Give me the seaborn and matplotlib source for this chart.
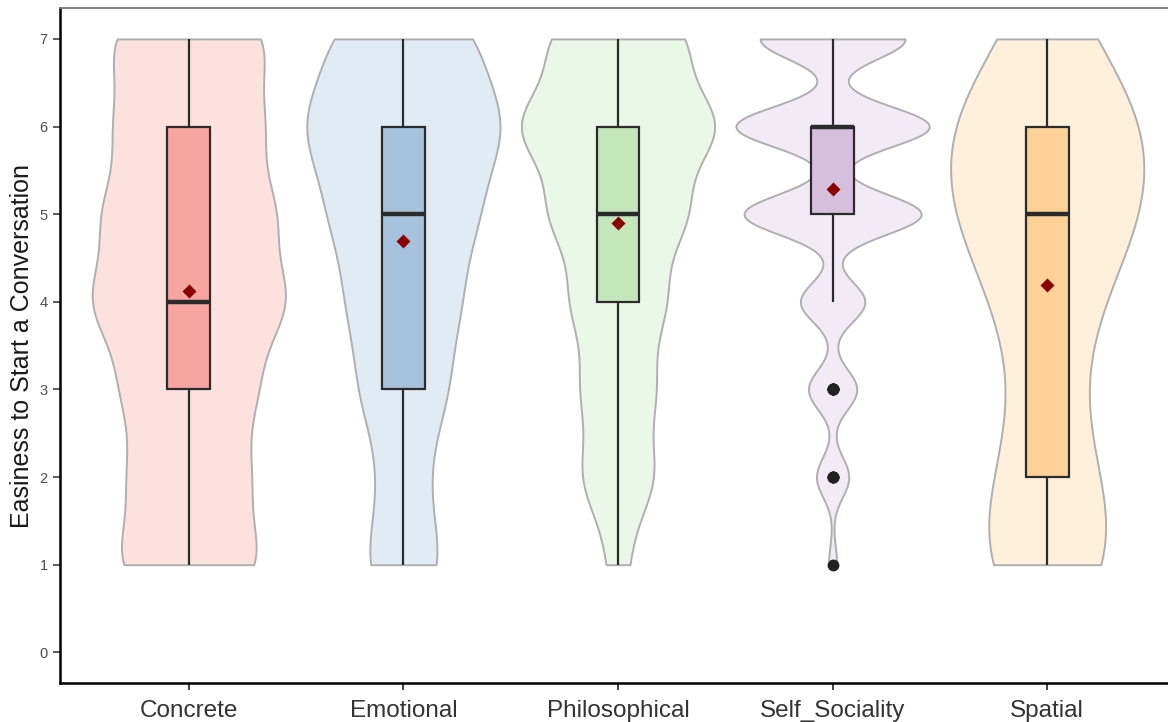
import numpy as np
import pandas as pd
import matplotlib.pyplot as plt
import seaborn as sns

# categories and answers per score (1..7), estimated from the violins / boxes
categories = ['Concrete', 'Emotional', 'Philosophical', 'Self_Sociality', 'Spatial']
scores = [1, 2, 3, 4, 5, 6, 7]

concrete_counts = [11, 9, 10, 15, 13, 11, 12]
emotional_counts = [7, 4, 8, 10, 13, 18, 13]
philosophical_counts = [2, 7, 7, 9, 13, 19, 13]
self_sociality_counts = [1, 4, 6, 8, 22, 24, 18]
spatial_counts = [13, 9, 5, 9, 17, 18, 8]

# kde bandwidth (in score units) per violin, as it looks in the original
bandwidths = [0.5, 0.55, 0.46, 0.23, 0.75]

violin_colors = ['#FDE1DF', '#E1EBF4', '#EBF7E8', '#F2EAF4', '#FFF0DB']
box_colors = ['#F6A5A0', '#A7C2DD', '#C3E7BB', '#D6BEDD', '#FDD197']

all_counts = [concrete_counts, emotional_counts, philosophical_counts,
              self_sociality_counts, spatial_counts]

rows = []
for cat, counts in zip(categories, all_counts):
    for s, c in zip(scores, counts):
        rows += [(cat, s)] * c
df = pd.DataFrame(rows, columns=['type', 'score'])

sns.set_style('ticks')
plt.rcParams['font.family'] = ['Liberation Sans', 'DejaVu Sans']

fig = plt.figure(figsize=(11.68, 7.22), dpi=100)
ax = fig.add_axes([0.0514, 0.054, 0.9554, 0.9346])

# violins, one call per type so each gets its own bandwidth
for cat, col, bw in zip(categories, violin_colors, bandwidths):
    sub = df[df['type'] == cat]
    sd = sub['score'].std()
    sns.violinplot(data=sub, x='type', y='score', order=categories, color=col,
                   saturation=1, bw_method=bw / sd, cut=0, inner=None,
                   density_norm='width', width=0.9, gridsize=400,
                   linecolor='#AFAFAF', linewidth=1.4, ax=ax)

sns.boxplot(data=df, x='type', y='score', order=categories, hue='type',
            hue_order=categories, palette=box_colors, saturation=1, width=0.2,
            linecolor='#2B2B2B', linewidth=1.6, showcaps=False, fliersize=7.5,
            flierprops=dict(marker='o', markerfacecolor='#222222',
                            markeredgecolor='#222222'),
            medianprops=dict(linewidth=3.2), legend=False, ax=ax)

# mean markers
sns.pointplot(data=df, x='type', y='score', order=categories, estimator='mean',
              errorbar=None, linestyle='none', marker='D', color='#8B0000',
              markersize=5, zorder=10, ax=ax)

ax.set_xlim(-0.6, 4.6)
ax.set_ylim(-0.35, 7.35)
ax.set_yticks(range(0, 8))
ax.set_xlabel('')
ax.set_ylabel('Easiness to Start a Conversation', fontsize=18, color='#1a1a1a')
ax.tick_params(axis='x', labelsize=17.5, colors='#333333', length=5, width=1.3, pad=7)
ax.tick_params(axis='y', labelsize=10.5, colors='#4D4D4D', length=5, width=1.3, pad=4)

ax.spines['right'].set_visible(False)
ax.spines['left'].set_linewidth(1.8)
ax.spines['bottom'].set_linewidth(1.8)
ax.spines['left'].set_color('black')
ax.spines['bottom'].set_color('black')
ax.spines['top'].set_color('#7A7A7A')
ax.spines['top'].set_linewidth(1.3)

fig.savefig('out.png', dpi=100)
